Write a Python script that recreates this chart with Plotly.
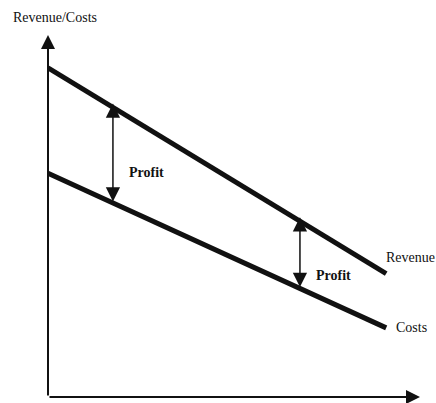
import plotly.graph_objects as go
import numpy as np

# Data (conceptual units)
quantity = [0, 10]
revenue = [10.0, 3.75]
costs = [6.8, 2.1]
profit_x = [1.92, 7.45]
axis_max_x = 11
axis_max_y = 11

W, H = 436, 403
L, R, T, B = 48, 16, 35, 6
pw, ph = W - L - R, H - T - B

def px2paper(px):
    return (px - L) / pw

def py2paper(py):
    return (H - B - py) / ph

FONT = "Liberation Serif, Times New Roman, serif"
INK = "#111111"

fig = go.Figure()
fig.add_trace(go.Scatter(x=quantity, y=revenue, mode="lines",
                         line=dict(color=INK, width=5), hoverinfo="skip"))
fig.add_trace(go.Scatter(x=quantity, y=costs, mode="lines",
                         line=dict(color=INK, width=5), hoverinfo="skip"))

ann = []
# axes with arrowheads
ann.append(dict(x=0, y=axis_max_y, ax=0, ay=0, xref="x", yref="y", axref="x", ayref="y",
                text="", showarrow=True, arrowhead=2, arrowsize=1.4, arrowwidth=2,
                arrowcolor=INK, standoff=0, startstandoff=0))
ann.append(dict(x=axis_max_x, y=0, ax=0, ay=0, xref="x", yref="y", axref="x", ayref="y",
                text="", showarrow=True, arrowhead=2, arrowsize=1.4, arrowwidth=2,
                arrowcolor=INK, standoff=0, startstandoff=0))

# profit double arrows between lines
for px_ in profit_x:
    r = np.interp(px_, quantity, revenue)
    c = np.interp(px_, quantity, costs)
    ann.append(dict(x=px_, y=r + 0.12, ax=px_, ay=c, xref="x", yref="y", axref="x", ayref="y",
                    text="", showarrow=True, arrowhead=2, arrowside="end+start",
                    arrowsize=1.9, arrowwidth=1.5, arrowcolor=INK,
                    standoff=0, startstandoff=0))

def label(text, px, py, bold=False, size=14):
    t = f"<b>{text}</b>" if bold else text
    ann.append(dict(x=px2paper(px), y=py2paper(py), xref="paper", yref="paper", text=t,
                    showarrow=False, xanchor="left", yanchor="middle",
                    font=dict(family=FONT, size=size, color=INK)))

label("Revenue/Costs", 11, 17)
label("Profit", 127, 172, bold=True)
label("Profit", 314, 275, bold=True)
label("Revenue", 384, 257)
label("Costs", 394, 327)

fig.update_layout(
    width=W, height=H,
    margin=dict(l=L, r=R, t=T, b=B),
    paper_bgcolor="white", plot_bgcolor="white",
    showlegend=False,
    xaxis=dict(range=[0, axis_max_x], visible=False, fixedrange=True),
    yaxis=dict(range=[0, axis_max_y], visible=False, fixedrange=True),
    annotations=ann,
)
fig.write_html("out.html", config={"displayModeBar": False, "staticPlot": True},
               post_script="document.body.style.margin='0';document.body.style.overflow='hidden';")
